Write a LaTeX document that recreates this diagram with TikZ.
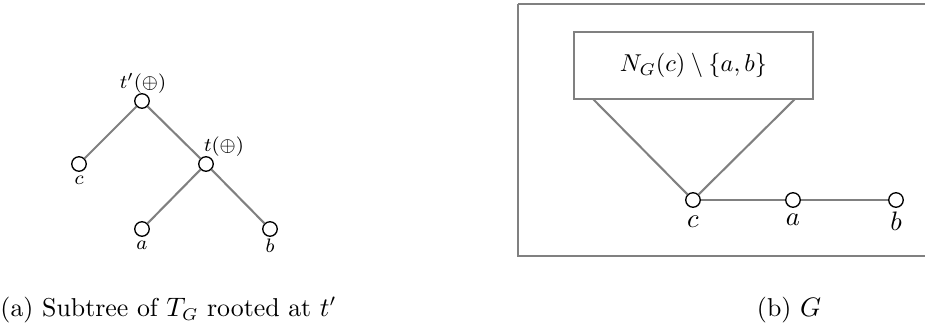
\documentclass[tikz,border=0pt]{standalone}
\begin{document}
\begin{tikzpicture}[x=0.41pt,y=-0.41pt,
  vtx/.style={circle,draw=black,line width=0.55pt,fill=white,inner sep=0pt,minimum size=14.5*0.41pt},
  edge/.style={draw=black!50,line width=0.85pt},
  lbl/.style={inner sep=0pt,font=\footnotesize},
  glbl/.style={inner sep=0pt,font=\fontsize{10.5}{12}\selectfont},
  captext/.style={inner sep=0pt,font=\fontsize{10.6}{12.5}\selectfont}]
\useasboundingbox (0,0) rectangle (925,324);
% (a) tree
\node[vtx] (tp) at (142,101) {};
\node[vtx] (c1) at (79,164) {};
\node[vtx] (t) at (206,164) {};
\node[vtx] (a1) at (142,229) {};
\node[vtx] (b1) at (270,229) {};
\draw[edge] (tp) -- (c1);
\draw[edge] (tp) -- (t);
\draw[edge] (t) -- (a1);
\draw[edge] (t) -- (b1);
\node[lbl] (tpl) at (143,83) {$t'(\oplus)$};
\node[lbl] (tl) at (224,147) {$t(\oplus)$};
\node[lbl] (cl1) at (79,180) {$c$};
\node[lbl] (al1) at (142,245) {$a$};
\node[lbl] (bl1) at (270,246) {$b$};
% (b) graph
\draw[edge] (518,4) -- (960,4) (518,4) -- (518,256) -- (960,256);
\node[draw=black!50,line width=0.85pt,minimum width=239*0.41pt,minimum height=67*0.41pt,inner sep=0pt,font=\fontsize{10.3}{12}\selectfont] (N) at (693.5,65.5) {$N_G(c)\setminus\{a,b\}$};
\coordinate (nl) at (593,99);
\coordinate (nr) at (795,99);
\node[vtx] (c2) at (693,200) {};
\node[vtx] (a2) at (793,200) {};
\node[vtx] (b2) at (896,200) {};
\draw[edge] (nl) -- (c2);
\draw[edge] (nr) -- (c2);
\draw[edge] (c2) -- (a2);
\draw[edge] (a2) -- (b2);
\node[glbl] (cl2) at (693,222) {$c$};
\node[glbl] (al2) at (793,220) {$a$};
\node[glbl] (bl2) at (896,221) {$b$};
% captions
\node[captext,anchor=west] (capa) at (0,310) {(a) Subtree of $T_G$ rooted at $t'$};
\node[captext] (capb) at (789,310) {(b) $G$};
\end{tikzpicture}
\end{document}
